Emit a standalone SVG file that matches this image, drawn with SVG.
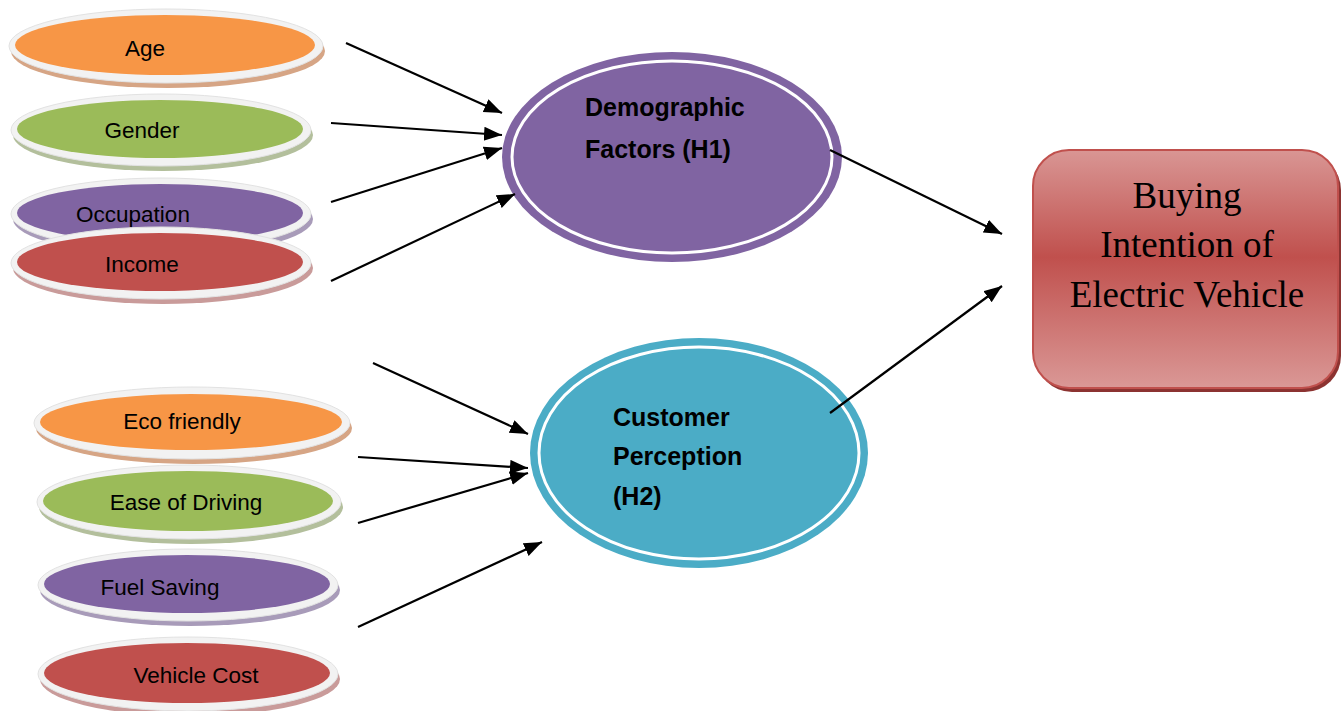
<svg xmlns="http://www.w3.org/2000/svg" width="1341" height="711" viewBox="0 0 1341 711">
<style>
.lbl{font-family:"Liberation Sans",Arial,sans-serif;font-size:22.5px;fill:#000;text-anchor:middle}
.big{font-family:"Liberation Sans",Arial,sans-serif;font-size:25px;font-weight:bold;fill:#000}
.box{font-family:"Liberation Serif","Times New Roman",serif;font-size:37px;fill:#000;text-anchor:middle}
.rim{fill:#f2f2f2;stroke:#e2e2e2;stroke-width:1}
.conn line{stroke:#000;stroke-width:2.2;marker-end:url(#ah)}
</style>
<defs>
<marker id="ah" markerUnits="userSpaceOnUse" markerWidth="19" markerHeight="15" refX="18" refY="7" orient="auto">
<path d="M0,0 L18,7 L0,14 z" fill="#000"/>
</marker>
<linearGradient id="rg" x1="0" y1="0" x2="0" y2="1">
<stop offset="0" stop-color="#d99694"/>
<stop offset="0.45" stop-color="#c0504d"/>
<stop offset="1" stop-color="#da9896"/>
</linearGradient>
</defs>
<rect width="1341" height="711" fill="#fff"/>

<g id="age">
<ellipse cx="168" cy="51" rx="157" ry="37" fill="#d6a585"/>
<ellipse cx="166" cy="46" rx="157" ry="37" class="rim"/>
<ellipse cx="165" cy="45" rx="150" ry="30" fill="#f79646"/>
<text x="145" y="56" class="lbl">Age</text>
</g>
<g id="gender">
<ellipse cx="163" cy="135" rx="150" ry="36" fill="#b3bf9c"/>
<ellipse cx="161" cy="130" rx="150" ry="36" class="rim"/>
<ellipse cx="160" cy="129" rx="143" ry="29" fill="#9bbb59"/>
<text x="142" y="138" class="lbl">Gender</text>
</g>
<g id="occupation">
<ellipse cx="163" cy="219" rx="150" ry="36" fill="#a89bb9"/>
<ellipse cx="161" cy="214" rx="150" ry="36" class="rim"/>
<ellipse cx="160" cy="213" rx="143" ry="29" fill="#8064a2"/>
<text x="133" y="222" class="lbl">Occupation</text>
</g>
<g id="income">
<ellipse cx="163" cy="268" rx="150" ry="36" fill="#c99b9a"/>
<ellipse cx="161" cy="263" rx="150" ry="36" class="rim"/>
<ellipse cx="160" cy="262" rx="143" ry="29" fill="#c0504d"/>
<text x="142" y="272" class="lbl">Income</text>
</g>

<g id="eco">
<ellipse cx="194" cy="428" rx="158" ry="36" fill="#d6a585"/>
<ellipse cx="192" cy="423" rx="158" ry="36" class="rim"/>
<ellipse cx="191" cy="422" rx="151" ry="28" fill="#f79646"/>
<text x="182" y="429" class="lbl">Eco friendly</text>
</g>
<g id="ease">
<ellipse cx="191" cy="507" rx="152" ry="37" fill="#b3bf9c"/>
<ellipse cx="189" cy="502" rx="152" ry="37" class="rim"/>
<ellipse cx="188" cy="501" rx="145" ry="30" fill="#9bbb59"/>
<text x="186" y="510" class="lbl">Ease of Driving</text>
</g>
<g id="fuel">
<ellipse cx="190" cy="590" rx="150" ry="36" fill="#a89bb9"/>
<ellipse cx="188" cy="585" rx="150" ry="36" class="rim"/>
<ellipse cx="187" cy="584" rx="143" ry="29" fill="#8064a2"/>
<text x="160" y="595" class="lbl">Fuel Saving</text>
</g>
<g id="cost">
<ellipse cx="190" cy="679" rx="150" ry="37" fill="#c99b9a"/>
<ellipse cx="188" cy="674" rx="150" ry="37" class="rim"/>
<ellipse cx="187" cy="673" rx="143" ry="30" fill="#c0504d"/>
<text x="196" y="683" class="lbl">Vehicle Cost</text>
</g>

<g id="demographic">
<ellipse cx="672" cy="157" rx="170" ry="105" fill="#8064a2"/>
<ellipse cx="672" cy="157" rx="160" ry="96" fill="none" stroke="#fff" stroke-width="3"/>
<text x="585" y="116" class="big">Demographic</text>
<text x="585" y="158" class="big">Factors (H1)</text>
</g>

<g id="perception">
<ellipse cx="699" cy="453" rx="169" ry="115" fill="#4bacc6"/>
<ellipse cx="699" cy="453" rx="160" ry="106" fill="none" stroke="#fff" stroke-width="3"/>
<text x="613" y="426" class="big">Customer</text>
<text x="613" y="465" class="big">Perception</text>
<text x="613" y="505" class="big">(H2)</text>
</g>

<g id="buying">
<rect x="1036" y="154" width="305" height="238" rx="36" fill="#8c3331"/>
<rect x="1033" y="150" width="305" height="238" rx="36" fill="url(#rg)" stroke="#c0504d" stroke-width="2"/>
<text x="1187" y="208" class="box">Buying</text>
<text x="1187" y="257" class="box">Intention of</text>
<text x="1187" y="307" class="box">Electric Vehicle</text>
</g>

<g id="connectors" class="conn">
<line x1="346" y1="43" x2="502" y2="113"/>
<line x1="331" y1="123" x2="502" y2="135"/>
<line x1="331" y1="202" x2="502" y2="148"/>
<line x1="331" y1="281" x2="515" y2="194"/>
<line x1="830" y1="150" x2="1002" y2="234"/>
<line x1="830" y1="413" x2="1002" y2="286"/>
<line x1="373" y1="363" x2="528" y2="434"/>
<line x1="358" y1="457" x2="528" y2="468"/>
<line x1="358" y1="523" x2="528" y2="473"/>
<line x1="358" y1="627" x2="542" y2="542"/>
</g>
</svg>
